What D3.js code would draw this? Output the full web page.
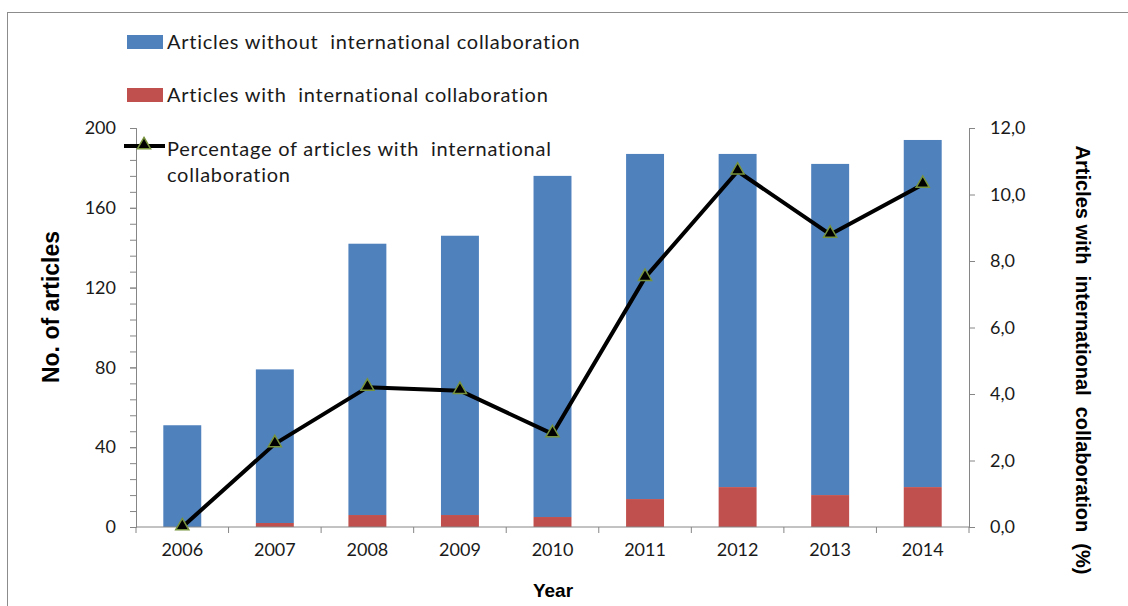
<!DOCTYPE html>
<html>
<head>
<meta charset="utf-8">
<script src="https://cdn.jsdelivr.net/npm/d3@7"></script>
<style>
  body { margin: 0; background: #fff; }
  svg { display: block; }
</style>
</head>
<body>
<svg id="plotCanvas" width="1128" height="606"></svg>
<script>
// data
var years = ["2006", "2007", "2008", "2009", "2010", "2011", "2012", "2013", "2014"];
var withoutCollab = [51, 77, 136, 140, 171, 173, 167, 166, 174];
var withCollab = [0, 2, 6, 6, 5, 14, 20, 16, 20];
var pctCollab = [0.0, 2.5, 4.2, 4.1, 2.8, 7.5, 10.7, 8.8, 10.3];
var leftTicks = [0, 40, 80, 120, 160, 200];
var rightTicks = [0, 2, 4, 6, 8, 10, 12];

var canvasWidth = 1128, canvasHeight = 606;
var plotLeft = 136, plotRight = 969, plotTop = 128, plotBottom = 527;

var canvas = d3.select("#plotCanvas");
var labelFont = "Lato, 'Noto Sans', sans-serif";
var titleFont = "'Liberation Sans', Arial, sans-serif";

// outer border
canvas.append("rect")
    .attr("x", 7.5).attr("y", 12.5)
    .attr("width", 1140).attr("height", 620)
    .attr("fill", "none").attr("stroke", "#8c8c8c").attr("stroke-width", 1);

var x = d3.scaleBand().domain(years).range([plotLeft, plotRight]).paddingInner(0).paddingOuter(0);
var yL = d3.scaleLinear().domain([0, 200]).range([plotBottom, plotTop]);
var yR = d3.scaleLinear().domain([0, 12]).range([plotBottom, plotTop]);
var barW = x.bandwidth() * 0.41;

// stacked bars
var rows = years.map(function(y, i) {
    return { year: y, w: withCollab[i], wo: withoutCollab[i], p: pctCollab[i] };
});

canvas.append("g").selectAll("rect")
    .data(rows).enter().append("rect")
    .attr("x", function(d) { return x(d.year) + x.bandwidth()/2 - barW/2; })
    .attr("y", function(d) { return yL(d.w + d.wo); })
    .attr("width", barW)
    .attr("height", function(d) { return yL(d.w) - yL(d.w + d.wo); })
    .attr("fill", "#4f81bd");

canvas.append("g").selectAll("rect")
    .data(rows).enter().append("rect")
    .attr("x", function(d) { return x(d.year) + x.bandwidth()/2 - barW/2; })
    .attr("y", function(d) { return yL(d.w); })
    .attr("width", barW)
    .attr("height", function(d) { return yL(0) - yL(d.w); })
    .attr("fill", "#c0504d");

// axes
function styleAxis(g) {
    g.selectAll(".domain").attr("stroke", "#868686");
    g.selectAll(".tick line").attr("stroke", "#868686");
    g.selectAll(".tick text").attr("fill", "#1a1a1a")
        .attr("font-family", labelFont).attr("font-size", "18px");
}

var minorL = d3.range(0, 201, 8);
canvas.append("g")
    .attr("transform", "translate(" + plotLeft + ",0)")
    .call(d3.axisLeft(yL).tickValues(minorL).tickSize(6).tickFormat(""))
    .call(styleAxis);
canvas.append("g")
    .attr("transform", "translate(" + plotLeft + ",0)")
    .call(d3.axisLeft(yL).tickValues(leftTicks).tickSize(6).tickPadding(14))
    .call(styleAxis);

canvas.append("g")
    .attr("transform", "translate(" + plotRight + ",0)")
    .call(d3.axisRight(yR).tickValues(rightTicks).tickSize(6).tickPadding(15)
        .tickFormat(function(d) { return d3.format(".1f")(d).replace(".", ","); }))
    .call(styleAxis);

var xAxis = canvas.append("g")
    .attr("transform", "translate(0," + plotBottom + ")")
    .call(d3.axisBottom(x).tickSize(0).tickPadding(16))
    .call(styleAxis);
xAxis.select(".domain").remove();
canvas.append("line")
    .attr("x1", plotLeft).attr("x2", plotRight).attr("y1", plotBottom).attr("y2", plotBottom)
    .attr("stroke", "#868686");
canvas.append("g").selectAll("line")
    .data(years.concat(["end"])).enter().append("line")
    .attr("x1", function(d, i) { return plotLeft + i * x.bandwidth(); })
    .attr("x2", function(d, i) { return plotLeft + i * x.bandwidth(); })
    .attr("y1", plotBottom).attr("y2", plotBottom + 6)
    .attr("stroke", "#868686");

// percentage line
var line = d3.line()
    .x(function(d) { return x(d.year) + x.bandwidth()/2; })
    .y(function(d) { return yR(d.p); });

canvas.append("path")
    .datum(rows)
    .attr("d", line)
    .attr("fill", "none")
    .attr("stroke", "#000")
    .attr("stroke-width", 4)
    .attr("stroke-linejoin", "round");

var tri = d3.symbol().type(d3.symbolTriangle).size(75);
canvas.append("g").selectAll("path")
    .data(rows).enter().append("path")
    .attr("d", tri)
    .attr("transform", function(d) {
        return "translate(" + (x(d.year) + x.bandwidth()/2) + "," + (yR(d.p) - 1) + ")";
    })
    .attr("fill", "#000")
    .attr("stroke", "#77933c")
    .attr("stroke-width", 1.5);

// axis titles
canvas.append("text")
    .attr("transform", "translate(59,307) rotate(-90)")
    .attr("text-anchor", "middle")
    .attr("font-family", titleFont).attr("font-weight", "bold").attr("font-size", "23px")
    .attr("fill", "#000")
    .text("No. of articles");

canvas.append("text")
    .attr("transform", "translate(1076,360) rotate(90)")
    .attr("text-anchor", "middle")
    .attr("font-family", titleFont).attr("font-weight", "bold").attr("font-size", "20px")
    .attr("fill", "#000")
    .style("white-space", "pre")
    .text("Articles with  international  collaboration  (%)");

canvas.append("text")
    .attr("x", 553).attr("y", 597)
    .attr("text-anchor", "middle")
    .attr("font-family", titleFont).attr("font-weight", "bold").attr("font-size", "19px")
    .attr("fill", "#000")
    .text("Year");

// legend
var legend = canvas.append("g");
legend.append("rect").attr("x", 127).attr("y", 35).attr("width", 36).attr("height", 14).attr("fill", "#4f81bd");
legend.append("rect").attr("x", 127).attr("y", 88).attr("width", 36).attr("height", 14).attr("fill", "#c0504d");
legend.append("line").attr("x1", 124).attr("x2", 165).attr("y1", 146).attr("y2", 146)
    .attr("stroke", "#000").attr("stroke-width", 4);
legend.append("path").attr("d", tri).attr("transform", "translate(144,145)")
    .attr("fill", "#000").attr("stroke", "#77933c").attr("stroke-width", 1.5);

var legendText = [
    { y: 49, t: "Articles without  international collaboration" },
    { y: 102, t: "Articles with  international collaboration" },
    { y: 156, t: "Percentage of articles with  international" },
    { y: 182, t: "collaboration" }
];
legend.selectAll("text")
    .data(legendText).enter().append("text")
    .attr("x", 167).attr("y", function(d) { return d.y; })
    .attr("font-family", labelFont).attr("font-size", "20px")
    .attr("letter-spacing", "0.75px")
    .attr("fill", "#1a1a1a")
    .style("white-space", "pre")
    .text(function(d) { return d.t; });
</script>
</body>
</html>
